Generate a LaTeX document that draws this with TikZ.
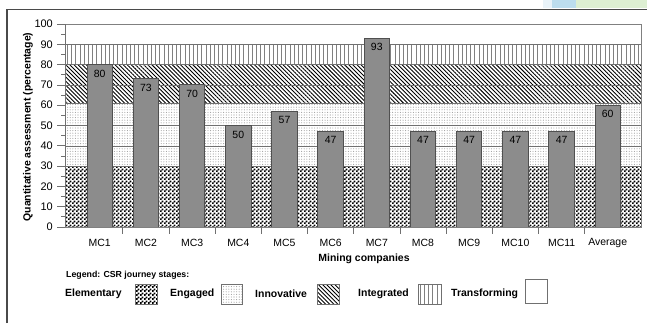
\documentclass[tikz,border=0pt]{standalone}
\usepackage{fontspec}
\setmainfont{Liberation Sans}
\usetikzlibrary{patterns,patterns.meta}
\definecolor{barfill}{HTML}{8C8C8C}
\definecolor{barline}{HTML}{505050}
\definecolor{framegray}{HTML}{4A4A4A}
\definecolor{axisgray}{HTML}{707070}
\definecolor{tabblue}{HTML}{BCDDEE}
\definecolor{tabgreen}{HTML}{DDEFD2}
\definecolor{tabpale}{HTML}{E9F3F9}
\pgfdeclarepatternformonly{finechecker}{\pgfpointorigin}{\pgfqpoint{4bp}{4bp}}{\pgfqpoint{4bp}{4bp}}{
  \pgfpathrectangle{\pgfpointorigin}{\pgfqpoint{2.1bp}{2.1bp}}
  \pgfpathrectangle{\pgfqpoint{2bp}{2bp}}{\pgfqpoint{2.1bp}{2.1bp}}
  \pgfusepath{fill}}
\tikzset{
  txt/.style={font=\fontsize{10.5}{12}\selectfont, inner sep=0pt},
  boldtxt/.style={font=\fontsize{10.5}{12}\selectfont\bfseries, inner sep=0pt},
  ticklab/.style={font=\fontsize{11}{12}\selectfont, inner sep=0pt, anchor=east},
  bar/.style={fill=barfill, draw=barline, line width=0.9bp},
  val/.style={txt, anchor=north, yshift=-5bp},
  grid/.style={draw=axisgray, line width=0.6bp},
  axis/.style={draw=axisgray, line width=0.8bp},
  keybox/.style={draw=axisgray, line width=0.6bp},
  elem/.style={pattern=finechecker},
  engd/.style={pattern={Dots[distance=2.6bp, radius=0.55bp]}, pattern color=gray!75},
  innov/.style={pattern={Lines[angle=-45, distance=2.9bp, line width=0.9bp]}},
  integ/.style={pattern={Lines[angle=90, distance=4.2bp, line width=0.6bp]}, pattern color=gray}
}
\begin{document}
\begin{tikzpicture}[x=1bp, y=1bp]
\fill[white] (0,0) rectangle (647,323);
\useasboundingbox (0,0) rectangle (647,323);
% page frame
\fill[tabpale] (543,315) rectangle (552,323);
\fill[tabblue] (552,315) rectangle (576,323);
\fill[tabgreen] (576,315) rectangle (647,323);
\draw[framegray, line width=1.2bp] (7,0) -- (7,313.5) -- (647,313.5);

\begin{scope}[shift={(0,96)}, y=2.03bp]
% stage bands
\fill[elem] (65,0) rectangle (641,30);
\fill[engd] (65,30) rectangle (641,61);
\fill[innov] (65,61) rectangle (641,80);
\fill[integ] (65,80) rectangle (641,90);
\draw[grid] (65,10) -- (641,10) (65,20) -- (641,20) (65,30) -- (641,30)
  (65,40) -- (641,40) (65,50) -- (641,50) (65,61) -- (641,61)
  (65,70) -- (641,70) (65,80) -- (641,80) (65,90) -- (641,90);
% bars
\draw[bar] (87,0) rectangle (112.5,80);
\node[val] (v1) at (99.75,80) {80};
\draw[bar] (133.2,0) rectangle (158.7,73);
\node[val] (v2) at (145.9,73) {73};
\draw[bar] (179.4,0) rectangle (204.9,70);
\node[val] (v3) at (192.1,70) {70};
\draw[bar] (225.5,0) rectangle (251,50);
\node[val] (v4) at (238.3,50) {50};
\draw[bar] (271.7,0) rectangle (297.2,57);
\node[val] (v5) at (284.5,57) {57};
\draw[bar] (317.9,0) rectangle (343.4,47);
\node[val] (v6) at (330.7,47) {47};
\draw[bar] (364.1,0) rectangle (389.6,93);
\node[val] (v7) at (376.8,93) {93};
\draw[bar] (410.3,0) rectangle (435.8,47);
\node[val] (v8) at (423,47) {47};
\draw[bar] (456.4,0) rectangle (481.9,47);
\node[val] (v9) at (469.2,47) {47};
\draw[bar] (502.6,0) rectangle (528.1,47);
\node[val] (v10) at (515.4,47) {47};
\draw[bar] (548.8,0) rectangle (574.3,47);
\node[val] (v11) at (561.6,47) {47};
\draw[bar] (595,0) rectangle (620.5,60);
\node[val] (vavg) at (607.7,60) {60};
% frame and axis
\draw[draw=gray, line width=0.8bp] (65,0) rectangle (641,100);
\draw[axis] (65,0) -- (65,100);
\draw[axis] (57,0) -- (65,0) (57,10) -- (65,10) (57,20) -- (65,20) (57,30) -- (65,30)
  (57,40) -- (65,40) (57,50) -- (65,50) (57,60) -- (65,60) (57,70) -- (65,70)
  (57,80) -- (65,80) (57,90) -- (65,90) (57,100) -- (65,100);
\draw[axis] (61,5) -- (65,5) (61,15) -- (65,15) (61,25) -- (65,25) (61,35) -- (65,35)
  (61,45) -- (65,45) (61,55) -- (65,55) (61,65) -- (65,65) (61,75) -- (65,75)
  (61,85) -- (65,85) (61,95) -- (65,95);
\node[ticklab] (y0) at (53,0) {0};
\node[ticklab] (y10) at (53,10) {10};
\node[ticklab] (y20) at (53,20) {20};
\node[ticklab] (y30) at (53,30) {30};
\node[ticklab] (y40) at (53,40) {40};
\node[ticklab] (y50) at (53,50) {50};
\node[ticklab] (y60) at (53,60) {60};
\node[ticklab] (y70) at (53,70) {70};
\node[ticklab] (y80) at (53,80) {80};
\node[ticklab] (y90) at (53,90) {90};
\node[ticklab] (y100) at (53,100) {100};
\end{scope}

% category axis
\draw[axis] (122.8,96) -- (122.8,89) (169,96) -- (169,89) (215.2,96) -- (215.2,89)
  (261.4,96) -- (261.4,89) (307.6,96) -- (307.6,89) (353.8,96) -- (353.8,89)
  (400,96) -- (400,89) (446.1,96) -- (446.1,89) (492.3,96) -- (492.3,89)
  (538.5,96) -- (538.5,89) (584.7,96) -- (584.7,89);
\node[txt] (mc1) at (99.75,80) {MC1};
\node[txt] (mc2) at (145.9,80) {MC2};
\node[txt] (mc3) at (192.1,80) {MC3};
\node[txt] (mc4) at (238.3,80) {MC4};
\node[txt] (mc5) at (284.5,80) {MC5};
\node[txt] (mc6) at (330.7,80) {MC6};
\node[txt] (mc7) at (376.8,80) {MC7};
\node[txt] (mc8) at (423,80) {MC8};
\node[txt] (mc9) at (469.2,80) {MC9};
\node[txt] (mc10) at (515.4,80) {MC10};
\node[txt] (mc11) at (561.6,80) {MC11};
\node[txt] (avg) at (607.7,80) {Average};
\node[boldtxt] (xtitle) at (364,64) {Mining companies};
\node[boldtxt, rotate=90] (ytitle) at (28,196) {Quantitative assessment (percentage)};

% legend
\node[boldtxt, font=\fontsize{8.8}{10}\selectfont\bfseries, anchor=west] (legtitle) at (66,48) {Legend: CSR journey stages:};
\node[boldtxt, anchor=west] (lelem) at (65,29) {Elementary};
\draw[keybox, elem] (135,19) rectangle (157,39);
\node[boldtxt, anchor=west] (lengd) at (170,29) {Engaged};
\draw[keybox, engd] (221,19) rectangle (242,39);
\node[boldtxt, anchor=west] (linnov) at (255,29) {Innovative};
\draw[keybox, innov] (317,19) rectangle (339,39);
\node[boldtxt, anchor=west] (linteg) at (358,29) {Integrated};
\draw[keybox, integ] (418,19) rectangle (441,39);
\node[boldtxt, anchor=west] (ltrans) at (451,29) {Transforming};
\draw[keybox] (525,20) rectangle (547,44);
\end{tikzpicture}
\end{document}
